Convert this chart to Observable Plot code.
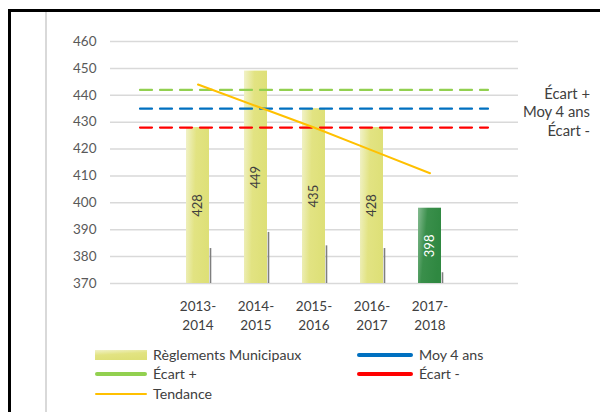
<!DOCTYPE html>
<html>
<head>
<meta charset="utf-8">
<script src="https://cdn.jsdelivr.net/npm/d3@7"></script>
<script src="https://cdn.jsdelivr.net/npm/@observablehq/plot@0.6"></script>
<style>
  html, body { margin: 0; padding: 0; background: #fff; }
  #wrap { position: relative; width: 600px; height: 412px; overflow: hidden; font-family: Lato, "Open Sans", sans-serif; color: #404040; }
  #frame { position: absolute; left: 8px; top: 9px; width: 700px; height: 500px; border-left: 3px solid #000; border-top: 3px solid #000; }
  #inner { position: absolute; left: 45px; top: 12px; width: 2px; height: 420px; background: #D9D9D9; }
  #chart { position: absolute; left: 0; top: 0; }
  #chart svg { background: transparent; }
  .lg { position: absolute; font-size: 14.2px; color: #404040; white-space: nowrap; }
  .lg svg { position: absolute; }
</style>
</head>
<body>
<div id="wrap">
  <div id="frame"></div>
  <div id="inner"></div>
  <div id="chart"></div>
  <div id="legend"></div>
</div>
<script>
// ---- Data ----
const periods = ["2013-2014", "2014-2015", "2015-2016", "2016-2017", "2017-2018"];
const slots = ["pad-start", ...periods, "pad-end"];
const reglements = [428, 449, 435, 428, 398];
const ombre = [383, 389, 384, 383, 374];
const tendance = [444, 436, 428, 419.5, 411];
const moy4ans = 435;
const ecartPlus = 442;
const ecartMoins = 428;
const yTicks = [370, 380, 390, 400, 410, 420, 430, 440, 450, 460];
const refLabels = ["Écart +", "Moy 4 ans", "Écart -"];
const refValues = [ecartPlus, moy4ans, ecartMoins];
const legendItems = [
  {label: "Règlements Municipaux", kind: "bar"},
  {label: "Moy 4 ans", kind: "line", color: "#0070C0"},
  {label: "Écart +", kind: "line", color: "#92D050"},
  {label: "Écart -", kind: "line", color: "#FF0000"},
  {label: "Tendance", kind: "thin", color: "#FFC000"}
];

const bars = periods.map((p, i) => ({p, v: reglements[i], s: ombre[i], t: tendance[i], last: i === periods.length - 1}));
const refRows = (val) => slots.map(s => ({s, v: val}));
const refText = refLabels.map((l, i) => ({l, v: refValues[i]}));

const defs = () => {
  const d = d3.create("svg:defs");
  const gy = d.append("linearGradient").attr("id", "gY").attr("x1", 0).attr("y1", 0).attr("x2", 1).attr("y2", 0.15);
  gy.append("stop").attr("offset", "0%").attr("stop-color", "#F1F2C8");
  gy.append("stop").attr("offset", "45%").attr("stop-color", "#E2E382");
  gy.append("stop").attr("offset", "100%").attr("stop-color", "#DEE078");
  const gg = d.append("linearGradient").attr("id", "gG").attr("x1", 0).attr("y1", 0).attr("x2", 1).attr("y2", 0.3);
  gg.append("stop").attr("offset", "0%").attr("stop-color", "#86BC92");
  gg.append("stop").attr("offset", "40%").attr("stop-color", "#3A8F4B");
  gg.append("stop").attr("offset", "100%").attr("stop-color", "#2F8841");
  return d.node();
};

const chart = Plot.plot({
  width: 600,
  height: 340,
  marginTop: 41,
  marginBottom: 57,
  marginLeft: 110,
  marginRight: 82,
  style: {fontFamily: "Lato, 'Open Sans', sans-serif", background: "transparent"},
  x: {domain: slots, paddingInner: 0.6, paddingOuter: 0.3, axis: null},
  y: {domain: [370, 460], axis: null},
  marks: [
    defs,
    Plot.ruleY(yTicks, {stroke: "#D9D9D9", strokeWidth: 1.5}),
    Plot.axisY(yTicks, {tickSize: 0, tickPadding: 14, fontSize: 13.5, fill: "#595959", stroke: null}),
    Plot.axisX(periods, {tickSize: 0, tickPadding: 15, fontSize: 13.5, fill: "#404040", lineHeight: 1.35,
      tickFormat: d => d.replace("-", "-\n")}),
    Plot.ruleX(bars, {x: "p", y1: 370, y2: "s", dx: 12.5, stroke: "#7F7F7F", strokeWidth: 1.6}),
    Plot.barY(bars.filter(d => !d.last), {x: "p", y1: 370, y2: "v", fill: "url(#gY)"}),
    Plot.barY(bars.filter(d => d.last), {x: "p", y1: 370, y2: "v", fill: "url(#gG)"}),
    Plot.lineY(refRows(ecartPlus), {x: "s", y: "v", stroke: "#92D050", strokeWidth: 2.2, strokeDasharray: "12,8"}),
    Plot.lineY(refRows(moy4ans), {x: "s", y: "v", stroke: "#0070C0", strokeWidth: 2.2, strokeDasharray: "12,8"}),
    Plot.lineY(refRows(ecartMoins), {x: "s", y: "v", stroke: "#FF0000", strokeWidth: 2.2, strokeDasharray: "12,8"}),
    Plot.lineY(bars, {x: "p", y: "t", stroke: "#FFC000", strokeWidth: 2}),
    Plot.text(bars.filter(d => !d.last), {x: "p", y: d => (370 + d.v) / 2, text: d => String(d.v), rotate: -90, fill: "#404040", fontSize: 13}),
    Plot.text(bars.filter(d => d.last), {x: "p", y: d => (370 + d.v) / 2, text: d => String(d.v), rotate: -90, fill: "#FFFFFF", fontSize: 13}),
    Plot.text(refText, {x: () => "pad-end", y: "v", text: "l", dx: 102, dy: 4, textAnchor: "end", fill: "#404040", fontSize: 14.8})
  ]
});
document.getElementById("chart").appendChild(chart);

// ---- Legend ----
const legend = document.getElementById("legend");
const pos = [
  {x: 95, y: 355}, {x: 357, y: 355},
  {x: 95, y: 374}, {x: 357, y: 374},
  {x: 95, y: 394}
];
legendItems.forEach((it, i) => {
  const p = pos[i];
  const w = i % 2 === 0 ? 52 : 56;
  const el = document.createElement("div");
  el.className = "lg";
  el.style.left = p.x + "px";
  el.style.top = (p.y - 10) + "px";
  el.style.height = "20px";
  let sw;
  if (it.kind === "bar") {
    sw = `<svg width="${w}" height="20" style="left:0;top:0"><defs><linearGradient id="lgY" x1="0" y1="0" x2="0.3" y2="1"><stop offset="0%" stop-color="#F1F2C8"/><stop offset="50%" stop-color="#E2E382"/><stop offset="100%" stop-color="#DEE078"/></linearGradient></defs><rect x="0" y="5" width="${w}" height="10" fill="url(#lgY)"/></svg>`;
  } else {
    const sw2 = it.kind === "thin" ? 2 : 4;
    sw = `<svg width="${w}" height="20" style="left:0;top:0"><line x1="${sw2/2}" x2="${w - sw2/2}" y1="10" y2="10" stroke="${it.color}" stroke-width="${sw2}" stroke-linecap="round"/></svg>`;
  }
  el.innerHTML = sw + `<span style="position:absolute;left:${w + 6}px;top:1px;line-height:18px">${it.label}</span>`;
  legend.appendChild(el);
});
</script>
</body>
</html>
